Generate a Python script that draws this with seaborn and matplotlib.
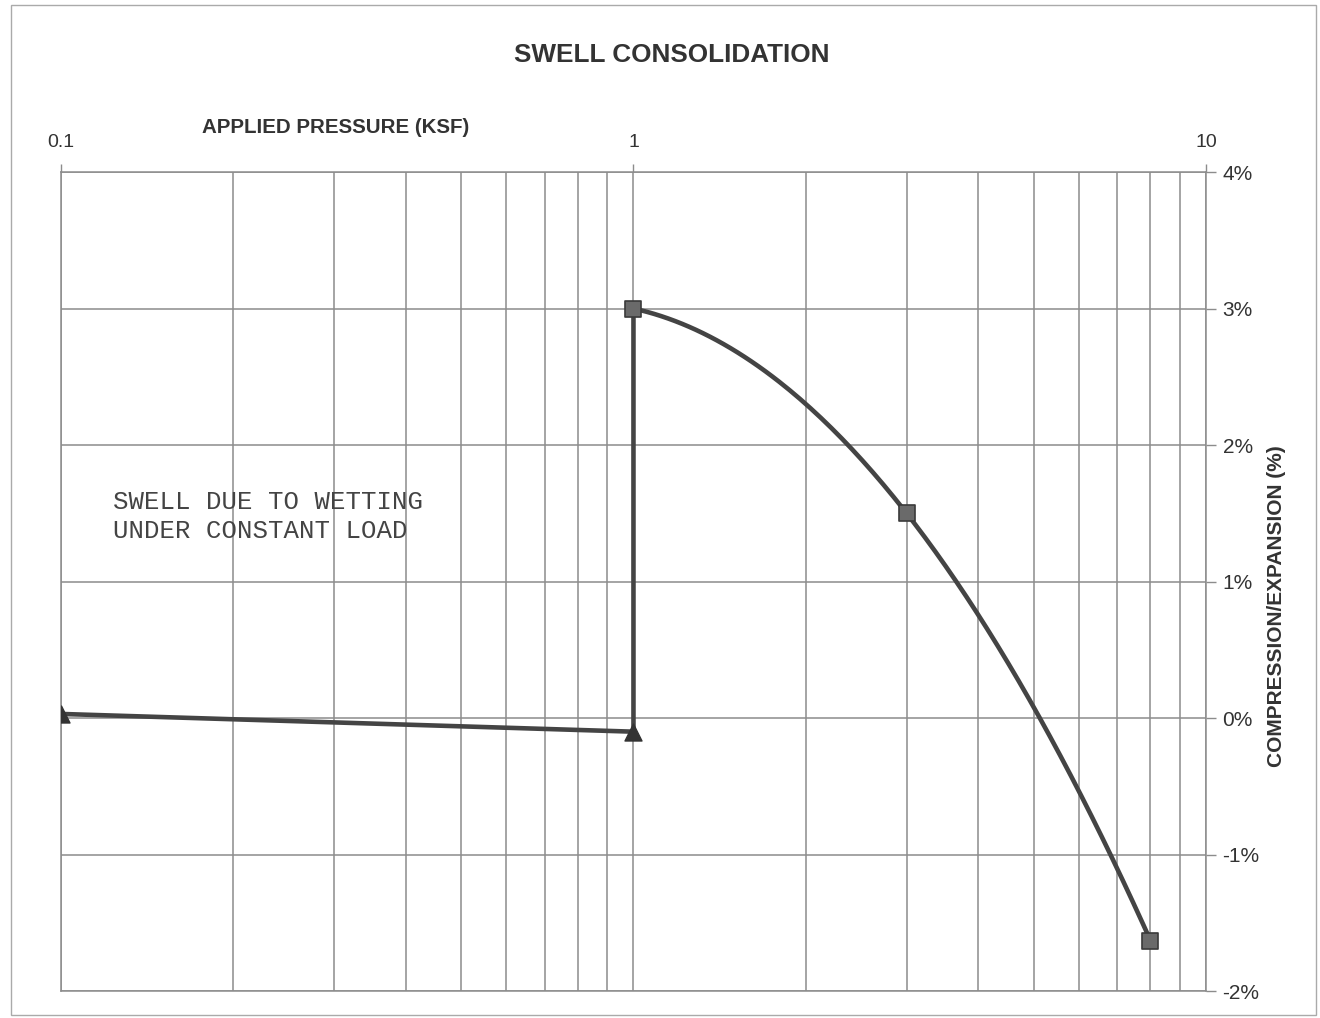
import numpy as np
import pandas as pd
import seaborn as sns
import matplotlib.pyplot as plt
from matplotlib.patches import Rectangle
from matplotlib.ticker import FixedLocator, LogLocator, NullFormatter, FuncFormatter

# readings
pressure_ksf = [0.1, 1.0, 1.0, 3.0, 8.0]
strain_pct = [0.03, -0.1, 3.0, 1.5, -1.63]
stage = ["dry", "dry", "wet", "wet", "wet"]
x_ticks = [0.1, 1, 10]
x_labels = ["0.1", "1", "10"]
y_ticks = [-2, -1, 0, 1, 2, 3, 4]

df = pd.DataFrame({"pressure": pressure_ksf, "strain": strain_pct, "stage": stage})


def smooth_through(xs, ys, n=150):
    # smooth curve passing exactly through the points (log x)
    lx = np.log10(xs)
    coef = np.polyfit(lx, ys, len(xs) - 1)
    t = np.linspace(lx.min(), lx.max(), n)
    return 10 ** t, np.polyval(coef, t)


sns.set_style("white")
plt.rcParams['font.family'] = ['Liberation Sans', 'DejaVu Sans']

fig = plt.figure(figsize=(13.2, 10.18), dpi=100)
ax = fig.add_axes([0.0462, 0.0265, 0.9136 - 0.0462, 0.831 - 0.0265])

line_col = "#444444"
straight = df.iloc[:3]
wet = df[df.stage == "wet"]
cx, cy = smooth_through(wet.pressure.values, wet.strain.values)
curve = pd.DataFrame({"pressure": cx, "strain": cy})

sns.lineplot(data=straight, x="pressure", y="strain", sort=False, estimator=None,
             color=line_col, lw=3.3, ax=ax, zorder=3)
sns.lineplot(data=curve, x="pressure", y="strain", sort=False, estimator=None,
             color=line_col, lw=3.3, ax=ax, zorder=3)
sns.scatterplot(data=df[df.stage == "dry"], x="pressure", y="strain", marker="^",
                s=150, color="#333333", edgecolor="#333333", ax=ax, zorder=4)
sns.scatterplot(data=wet, x="pressure", y="strain", marker="s",
                s=130, color="#6a6a6a", edgecolor="#3a3a3a", linewidth=1.2, ax=ax, zorder=4)

ax.set_xscale("log")
ax.set_xlim(0.1, 10)
ax.set_ylim(-2, 4)

grid_col = "#8c8c8c"
ax.xaxis.set_major_locator(FixedLocator(x_ticks))
ax.xaxis.set_minor_locator(LogLocator(base=10, subs=np.arange(2, 10)))
ax.xaxis.set_minor_formatter(NullFormatter())
ax.set_xticks(x_ticks, x_labels)
ax.set_yticks(y_ticks)
ax.yaxis.set_major_formatter(FuncFormatter(lambda v, p: f"{v:.0f}%"))
ax.grid(which="both", axis="x", color=grid_col, lw=1.1)
ax.grid(which="major", axis="y", color=grid_col, lw=1.1)

ax.xaxis.tick_top()
ax.yaxis.tick_right()
ax.tick_params(axis="x", which="major", direction="out", length=6, width=1, color=grid_col,
               labelsize=14, labelcolor="#333333", pad=9)
ax.tick_params(axis="x", which="minor", length=0)
ax.tick_params(axis="y", which="major", direction="out", length=7, width=1, color=grid_col,
               labelsize=15, labelcolor="#333333", pad=5)
for s in ax.spines.values():
    s.set_color(grid_col)
    s.set_linewidth(1.1)
ax.set_xlabel("")
ax.set_ylabel("")

fig.text(0.509, 0.946, "SWELL CONSOLIDATION", ha="center", va="center",
         fontsize=18.8, fontweight="bold", color="#333333")
fig.text(0.2545, 0.875, "APPLIED PRESSURE (KSF)", ha="center", va="center",
         fontsize=14.8, fontweight="bold", color="#333333")
fig.text(0.967, 0.405, "COMPRESSION/EXPANSION (%)", ha="center", va="center",
         rotation=90, fontsize=15, fontweight="bold", color="#333333")

fig.text(0.0856, 0.4925, "SWELL DUE TO WETTING\nUNDER CONSTANT LOAD", ha="left", va="center",
         family=["Liberation Mono", "DejaVu Sans Mono"], fontsize=18.5, color="#444444",
         linespacing=1.3)

fig.add_artist(Rectangle((0.008, 0.003), 0.989, 0.992, transform=fig.transFigure,
                         fill=False, edgecolor="#aaaaaa", lw=1))

fig.savefig("out.png", dpi=100)
